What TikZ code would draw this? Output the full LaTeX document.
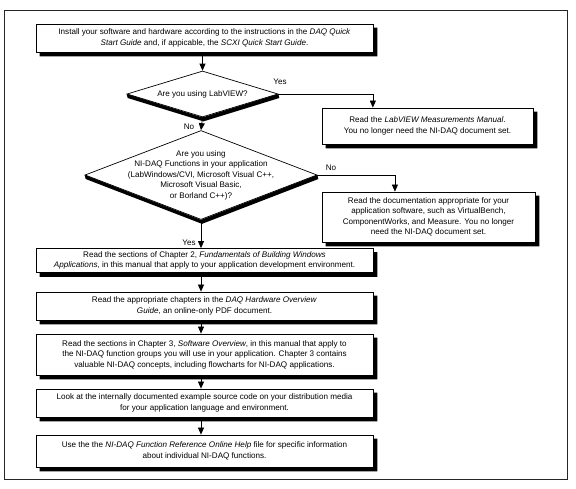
\documentclass[tikz,border=0pt]{standalone}
\usepackage{fontspec}
\setmainfont{Liberation Sans}
\usetikzlibrary{shapes.geometric,arrows.meta,calc}
\tikzset{
  txt/.style={font=\fontsize{8.1}{10.5}\selectfont, align=center},
  stepbox/.style={draw, line width=0.8pt, fill=white, rectangle, inner sep=0pt, txt},
  dia/.style={draw, line width=0.7pt, fill=white, diamond, inner sep=0pt},
  shadowfill/.style={fill=black, draw=none},
  arr/.style={line width=0.7pt, -{Triangle[length=7pt,width=6pt]}},
  lbl/.style={font=\fontsize{8.1}{9}\selectfont, inner sep=0pt},
  frame/.style={line width=1pt, draw=black!85}
}
% shadow strips drawn on top of each node (y axis points down)
\newcommand{\boxshadow}[1]{%
  \fill[shadowfill] ($(#1.south west)+(4,0)$) -- (#1.south east) -- ($(#1.north east)+(0,4)$)
    -- ($(#1.north east)+(4,4)$) -- ($(#1.south east)+(4,4)$) -- ($(#1.south west)+(4,4)$) -- cycle;}
\newcommand{\diashadow}[1]{%
  \fill[shadowfill] (#1.west) -- (#1.south) -- (#1.east) -- ($(#1.east)+(1,4)$)
    -- ($(#1.south)+(1,4)$) -- ($(#1.west)+(1,4)$) -- cycle;}
\begin{document}
\begin{tikzpicture}[x=1pt,y=-1pt]
\fill[white] (0,0) rectangle (576,488);
\useasboundingbox (0,0) rectangle (576,488);
\draw[frame] (4,10) rectangle (567,479);

\node[stepbox, minimum width=337pt, minimum height=28pt] (b1) at (204.5,38)
 {Install your software and hardware according to the instructions in the \textit{DAQ Quick}\\
  \textit{Start Guide} and, if appicable, the \textit{SCXI Quick Start Guide}.};

\node[dia, minimum width=151pt, minimum height=46pt] (d1) at (202.5,94) {};
\node[txt] (t1) at (d1.center) {Are you using LabVIEW?};

\node[stepbox, minimum width=211pt, minimum height=36pt] (b2) at (427.5,126)
 {Read the \textit{LabVIEW Measurements Manual}.\\
  You no longer need the NI-DAQ document set.};

\node[dia, minimum width=232pt, minimum height=89pt] (d2) at (201,175) {};
\node[txt] (t2) at (d2.center) {Are you using\\
  NI-DAQ Functions in your application\\
  (LabWindows/CVI, Microsoft Visual C++,\\
  Microsoft Visual Basic,\\
  or Borland C++)?};

\node[stepbox, minimum width=213pt, minimum height=50pt] (b3) at (428.5,217)
 {Read the documentation appropriate for your\\
  application software, such as VirtualBench,\\
  ComponentWorks, and Measure. You no longer\\
  need the NI-DAQ document set.};

\node[stepbox, minimum width=337pt, minimum height=24pt] (b4) at (204.5,260.5)
 {Read the sections of Chapter 2, \textit{Fundamentals of Building Windows}\\
  \textit{Applications}, in this manual that apply to your application development environment.};

\node[stepbox, minimum width=337pt, minimum height=28pt] (b5) at (204.5,306)
 {Read the appropriate chapters in the \textit{DAQ Hardware Overview}\\
  \textit{Guide}, an online-only PDF document.};

\node[stepbox, minimum width=337pt, minimum height=41pt] (b6) at (204.5,354.5)
 {Read the sections in Chapter 3, \textit{Software Overview}, in this manual that apply to\\
  the NI-DAQ function groups you will use in your application. Chapter 3 contains\\
  valuable NI-DAQ concepts, including flowcharts for NI-DAQ applications.};

\node[stepbox, minimum width=337pt, minimum height=28pt] (b7) at (204.5,403)
 {Look at the internally documented example source code on your distribution media\\
  for your application language and environment.};

\node[stepbox, minimum width=337pt, minimum height=32pt] (b8) at (204.5,451)
 {Use the the \textit{NI-DAQ Function Reference Online Help} file for specific information\\
  about individual NI-DAQ functions.};

\boxshadow{b1}\boxshadow{b2}\boxshadow{b3}\boxshadow{b4}
\boxshadow{b5}\boxshadow{b6}\boxshadow{b7}\boxshadow{b8}
\diashadow{d1}\diashadow{d2}

% connectors
\draw[arr] (b1.south -| d1.north) -- (d1.north);
\draw[arr] (d1.east) -| ($(b2.north west)!0.242!(b2.north east)$);
\draw[arr] (d1.south) -- (d2.north);
\draw[arr] (d2.east) -| ($(b3.north west)!0.343!(b3.north east)$);
\draw[arr] (d2.south) -- (b4.north -| d2.south);
\draw[arr] (b4.south -| d2.south) -- (b5.north -| d2.south);
\draw[arr] (b5.south -| d2.south) -- (b6.north -| d2.south);
\draw[arr] (b6.south -| d2.south) -- (b7.north -| d2.south);
\draw[arr] (b7.south -| d2.south) -- (b8.north -| d2.south);

% labels
\node[lbl] (lyes1) at (280,82) {Yes};
\node[lbl] (lno1) at (189,127) {No};
\node[lbl] (lno2) at (331,168) {No};
\node[lbl] (lyes2) at (189,243) {Yes};
\end{tikzpicture}
\end{document}
